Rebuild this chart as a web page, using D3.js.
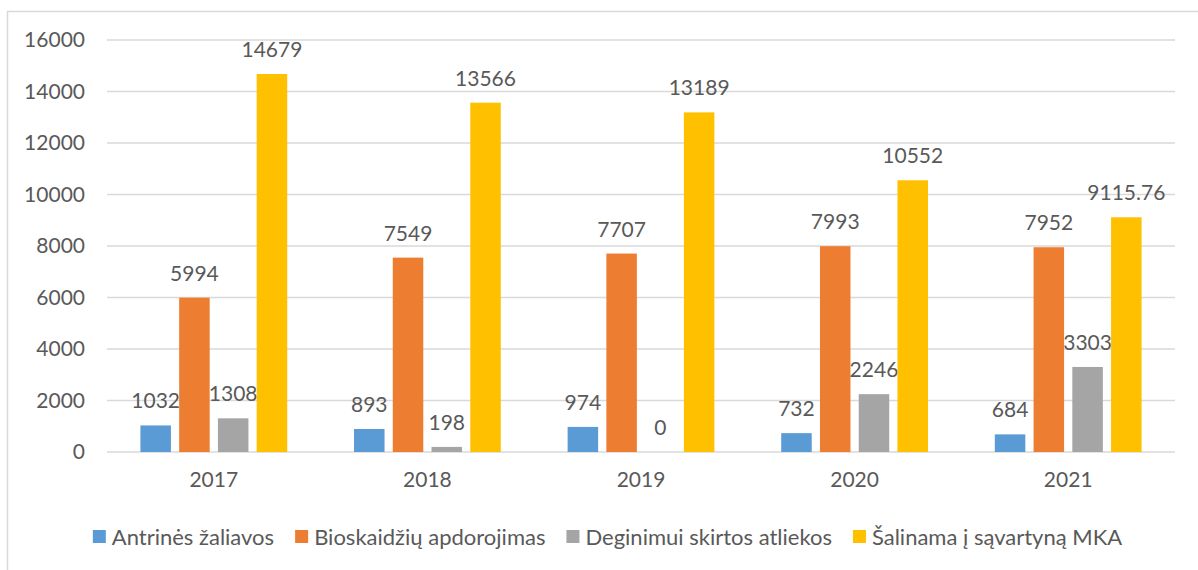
<!DOCTYPE html>
<html>
<head>
<meta charset="utf-8">
<script src="https://cdn.jsdelivr.net/npm/d3@7"></script>
<style>
  body { margin: 0; background: #fff; }
  text { font-family: Lato, "Open Sans", sans-serif; fill: #595959; }
</style>
</head>
<body>
<div id="chart"></div>
<script>
// data
var years = ["2017", "2018", "2019", "2020", "2021"];
var seriesNames = ["Antrinės žaliavos", "Bioskaidžių apdorojimas", "Deginimui skirtos atliekos", "Šalinama į sąvartyną MKA"];
var antrines = [1032, 893, 974, 732, 684];
var bioskaidziu = [5994, 7549, 7707, 7993, 7952];
var deginimui = [1308, 198, 0, 2246, 3303];
var salinama = [14679, 13566, 13189, 10552, 9115.76];
var yTicks = [0, 2000, 4000, 6000, 8000, 10000, 12000, 14000, 16000];
var colors = ["#5b9bd5", "#ed7d31", "#a5a5a5", "#ffc000"];

var seriesValues = [antrines, bioskaidziu, deginimui, salinama];

var full_width = 1198, full_height = 570;
var margin = {top: 40, left: 107, right: 23, bottom: 118};
var width = full_width - margin.left - margin.right;
var height = full_height - margin.top - margin.bottom;

var svg = d3.select("#chart")
  .append("svg")
    .attr("width", full_width)
    .attr("height", full_height);

// chart frame (runs off the right and bottom edge)
svg.append("rect")
  .attr("x", 7.5)
  .attr("y", 11.5)
  .attr("width", 1205)
  .attr("height", 600)
  .style("fill", "none")
  .style("stroke", "#d9d9d9")
  .style("stroke-width", 1.5);

var g = svg.append("g")
  .attr("transform", "translate(" + margin.left + "," + margin.top + ")");

var y = d3.scaleLinear()
  .domain([0, 16000])
  .range([height, 0]);

var x0 = d3.scaleBand()
  .domain(years)
  .range([0, width]);

// Excel style: gap width ~219%, overlap -27%
var barW = x0.bandwidth() / 7;
var groupW = barW * 4 + barW * 0.27 * 3;
var x1 = d3.scaleBand()
  .domain(seriesNames)
  .range([0, groupW])
  .paddingInner(0.27 / 1.27)
  .paddingOuter(0);

// gridlines
g.append("g")
  .selectAll("line")
  .data(yTicks)
  .enter()
  .append("line")
    .attr("x1", 0)
    .attr("x2", width)
    .attr("y1", d => y(d))
    .attr("y2", d => y(d))
    .style("stroke", "#d9d9d9")
    .style("stroke-width", 1.5);

// Y axis labels
var yAxis = g.append("g")
  .call(d3.axisLeft(y).tickValues(yTicks).tickSize(0).tickPadding(22).tickFormat(d3.format("d")));
yAxis.select(".domain").remove();
yAxis.selectAll("text")
  .style("font-size", "21px")
  .style("fill", "#595959")
  .style("font-family", "Lato, sans-serif");

// X axis labels
var xAxis = g.append("g")
  .attr("transform", "translate(0," + height + ")")
  .call(d3.axisBottom(x0).tickSize(0).tickPadding(20));
xAxis.select(".domain").remove();
xAxis.selectAll("text")
  .style("font-size", "21px")
  .style("fill", "#595959")
  .style("font-family", "Lato, sans-serif");

// bars
seriesNames.forEach(function(name, i) {
  var vals = seriesValues[i];
  var grp = g.append("g");
  grp.selectAll("rect")
    .data(years)
    .enter()
    .append("rect")
      .attr("x", (d, j) => x0(d) + (x0.bandwidth() - groupW) / 2 + x1(name))
      .attr("y", (d, j) => y(vals[j]))
      .attr("width", x1.bandwidth())
      .attr("height", (d, j) => height - y(vals[j]))
      .style("fill", colors[i]);

  grp.selectAll("text")
    .data(years)
    .enter()
    .append("text")
      .attr("x", (d, j) => x0(d) + (x0.bandwidth() - groupW) / 2 + x1(name) + x1.bandwidth() / 2)
      .attr("y", (d, j) => y(vals[j]) - 17)
      .attr("text-anchor", "middle")
      .style("font-size", "21px")
      .text((d, j) => vals[j]);
});

// legend
var legend = svg.append("g").attr("transform", "translate(0,545)");
var items = legend.selectAll("g")
  .data(seriesNames)
  .enter()
  .append("g");
items.append("rect")
  .attr("x", 0)
  .attr("y", -15)
  .attr("width", 13)
  .attr("height", 13)
  .style("fill", (d, i) => colors[i]);
items.append("text")
  .attr("x", 19)
  .attr("y", 0)
  .style("font-size", "22px")
  .text(d => d);

var xpos = 0;
var offsets = [];
items.each(function(d, i) {
  offsets.push(xpos);
  xpos += 19 + d3.select(this).select("text").node().getComputedTextLength() + 21;
});
var totalW = xpos - 21;
var startX = 607.5 - totalW / 2;
items.attr("transform", (d, i) => "translate(" + (startX + offsets[i]) + ",0)");
</script>
</body>
</html>
